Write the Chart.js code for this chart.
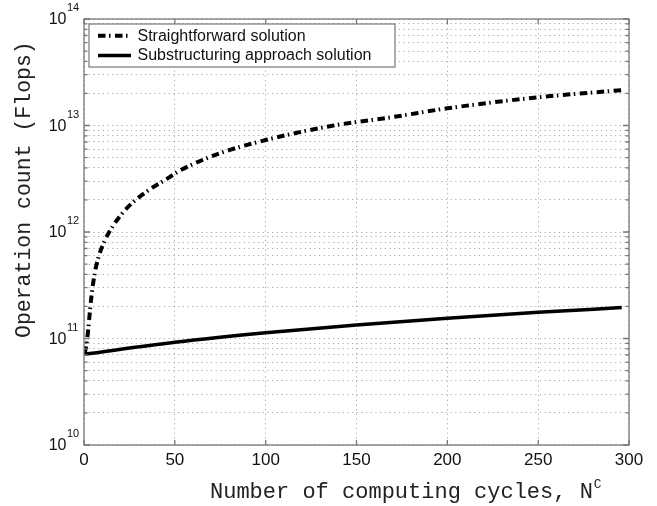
<!DOCTYPE html>
<html>
<head>
<meta charset="utf-8">
<script src="https://cdn.jsdelivr.net/npm/chart.js@4.4.1/dist/chart.umd.min.js"></script>
<style>
html, body { margin: 0; padding: 0; background: #fff; }
</style>
</head>
<body>
<canvas id="ops" width="657" height="506"></canvas>
<script>
// operation count vs. number of computing cycles
const cyclesDirect = [0.4, 1.7, 4, 5.9, 8.1, 11.7, 16.4, 22.8, 29.2, 37.5, 44.9, 53.1, 75, 100, 136, 170, 200, 250, 296];
const flopsDirect = [7.2e10, 9.7e10, 2.4e11, 4.1e11, 5.9e11, 8.5e11, 1.17e12, 1.62e12, 2.05e12, 2.6e12, 3.1e12, 3.8e12, 5.5e12, 7.3e12, 9.9e12, 1.2e13, 1.45e13, 1.84e13, 2.15e13];
const cyclesSub = [0, 50, 100, 150, 200, 250, 296];
const flopsSub = [7.1e10, 9.2e10, 1.13e11, 1.34e11, 1.55e11, 1.76e11, 1.95e11];
const xTicks = [0, 50, 100, 150, 200, 250, 300];
const yExponents = [10, 11, 12, 13, 14];
const seriesNames = ['Straightforward solution', 'Substructuring approach solution'];

function toPoints(xs, ys) {
    return xs.map((v, i) => ({x: v, y: ys[i]}));
}

// log ticks: every 1..9 x 10^n inside the decades
let yTickValues = [];
yExponents.forEach((e, i) => {
    if (i == yExponents.length - 1) { yTickValues.push(Math.pow(10, e)); return; }
    for (let m = 1; m <= 9; m++) yTickValues.push(m * Math.pow(10, e));
});

const sansFont = '"Liberation Sans", Arial, sans-serif';
const monoFont = '"Liberation Mono", "DejaVu Sans Mono", monospace';

// box, inner ticks, tick labels, axis titles and legend
const decor = {
    id: 'decor',
    afterDraw(chart) {
        const {ctx, chartArea: a, scales: {x, y}} = chart;
        ctx.save();

        ctx.strokeStyle = '#777';
        ctx.lineWidth = 1.3;
        ctx.strokeRect(a.left, a.top, a.right - a.left, a.bottom - a.top);

        ctx.beginPath();
        xTicks.forEach(v => {
            const px = x.getPixelForValue(v);
            ctx.moveTo(px, a.bottom); ctx.lineTo(px, a.bottom - 5);
            ctx.moveTo(px, a.top); ctx.lineTo(px, a.top + 5);
        });
        yTickValues.forEach(v => {
            const py = y.getPixelForValue(v);
            const major = Number.isInteger(Math.round(Math.log10(v) * 1e6) / 1e6);
            const len = major ? 6 : 3.5;
            ctx.moveTo(a.left, py); ctx.lineTo(a.left + len, py);
            ctx.moveTo(a.right, py); ctx.lineTo(a.right - len, py);
        });
        ctx.stroke();

        // tick labels
        ctx.fillStyle = '#111';
        ctx.textBaseline = 'middle';
        ctx.textAlign = 'center';
        ctx.font = '17px ' + sansFont;
        xTicks.forEach(v => ctx.fillText(String(v), x.getPixelForValue(v), a.bottom + 15));

        yExponents.forEach(e => {
            const py = y.getPixelForValue(Math.pow(10, e));
            ctx.font = '16px ' + sansFont;
            ctx.textAlign = 'right';
            ctx.fillText('10', a.left - 17.5, py + 1);
            ctx.font = '11px ' + sansFont;
            ctx.textAlign = 'left';
            ctx.fillText(String(e), a.left - 17, py - 11);
        });

        // axis titles
        ctx.fillStyle = '#222';
        ctx.textBaseline = 'alphabetic';
        ctx.textAlign = 'left';
        ctx.font = '22px ' + monoFont;
        const xt = 'Number of computing cycles, N';
        ctx.fillText(xt, 210, 498);
        const xw = ctx.measureText(xt).width;
        ctx.font = '13px ' + monoFont;
        ctx.fillText('C', 210 + xw + 1, 488);

        ctx.save();
        ctx.translate(30, 338);
        ctx.rotate(-Math.PI / 2);
        ctx.font = '21.5px ' + monoFont;
        ctx.fillText('Operation count (Flops)', 0, 0);
        ctx.restore();

        // legend
        const lx = 89, ly = 24, lw = 306, lh = 43;
        ctx.fillStyle = '#fff';
        ctx.fillRect(lx, ly, lw, lh);
        ctx.strokeStyle = '#777';
        ctx.lineWidth = 1.2;
        ctx.strokeRect(lx, ly, lw, lh);
        const rows = [35.7, 55.5];
        chart.data.datasets.forEach((ds, i) => {
            ctx.beginPath();
            ctx.strokeStyle = ds.borderColor;
            ctx.lineWidth = ds.borderWidth;
            ctx.setLineDash(ds.borderDash || []);
            ctx.moveTo(98, rows[i]); ctx.lineTo(131, rows[i]);
            ctx.stroke();
            ctx.setLineDash([]);
            ctx.fillStyle = '#111';
            ctx.font = '16px ' + sansFont;
            ctx.textBaseline = 'middle';
            ctx.fillText(ds.label, 137.5, rows[i] + 0.5);
        });

        ctx.restore();
    }
};

const ctx = document.getElementById('ops').getContext('2d');
const opsChart = new Chart(ctx, {
    type: 'line',
    data: {
        datasets: [
            {
                label: seriesNames[0],
                data: toPoints(cyclesDirect, flopsDirect),
                borderColor: '#000',
                borderWidth: 4,
                borderDash: [7.5, 3.5, 1.5, 4.5],
                pointRadius: 0,
                cubicInterpolationMode: 'monotone',
                fill: false
            },
            {
                label: seriesNames[1],
                data: toPoints(cyclesSub, flopsSub),
                borderColor: '#000',
                borderWidth: 3.5,
                pointRadius: 0,
                cubicInterpolationMode: 'monotone',
                fill: false
            }
        ]
    },
    options: {
        responsive: false,
        animation: false,
        devicePixelRatio: 1,
        layout: { padding: { left: 84, right: 28, top: 19, bottom: 61 } },
        plugins: {
            legend: { display: false },
            tooltip: { enabled: false }
        },
        scales: {
            x: {
                type: 'linear',
                min: 0,
                max: 300,
                afterBuildTicks: s => { s.ticks = xTicks.map(v => ({value: v})); },
                afterFit: s => { s.height = 0; },
                ticks: { display: false },
                grid: { color: '#aaa', lineWidth: 1, drawTicks: false },
                border: { display: false, dash: [1.2, 3.5] }
            },
            y: {
                type: 'logarithmic',
                min: 1e10,
                max: 1e14,
                afterBuildTicks: s => { s.ticks = yTickValues.map(v => ({value: v})); },
                afterFit: s => { s.width = 0; },
                ticks: { display: false },
                grid: { color: '#aaa', lineWidth: 1, drawTicks: false },
                border: { display: false, dash: [1.2, 3.5] }
            }
        }
    },
    plugins: [decor]
});
</script>
</body>
</html>
